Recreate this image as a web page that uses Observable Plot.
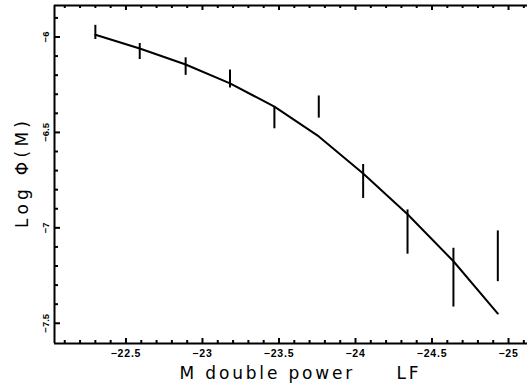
<!DOCTYPE html>
<html>
<head>
<meta charset="utf-8">
<script src="https://cdn.jsdelivr.net/npm/d3@7"></script>
<script src="https://cdn.jsdelivr.net/npm/@observablehq/plot@0.6"></script>
<style>
  html, body { margin: 0; padding: 0; background: #fff; }
  svg text { white-space: pre; }
</style>
</head>
<body>
<div id="chart"></div>
<script>
// Observed points (absolute magnitude, log phi, half error)
const mag    = [-22.30, -22.59, -22.89, -23.18, -23.47, -23.76, -24.05, -24.34, -24.64, -24.93];
const logPhi = [-5.976, -6.076, -6.155, -6.220, -6.423, -6.367, -6.757, -7.022, -7.261, -7.149];
const err    = [0.037, 0.042, 0.046, 0.047, 0.058, 0.058, 0.089, 0.116, 0.154, 0.133];
// Double power-law fit curve
const fitLogPhi = [-5.988, -6.060, -6.144, -6.243, -6.365, -6.521, -6.715, -6.929, -7.175, -7.449];
// Axis ticks
const xTicks = [-22.5, -23, -23.5, -24, -24.5, -25];
const yTicks = [-6, -6.5, -7, -7.5];
const xDomain = [-22.033, -25.124];
const yDomain = [-7.606, -5.835];
const xLabel = "M double power\u00a0\u00a0\u00a0\u00a0\u00a0LF";
const yLabel = "Log \u03A6(M)";

const points = mag.map((m, i) => ({m, v: logPhi[i], lo: logPhi[i] - err[i], hi: logPhi[i] + err[i]}));
const fit = mag.map((m, i) => ({m, v: fitLogPhi[i]}));
const xMinor = d3.range(-221, -252, -1).map(d => d / 10).filter(d => !xTicks.some(t => Math.abs(t - d) < 1e-9));
const yMinor = d3.range(-59, -76, -1).map(d => d / 10).filter(d => !yTicks.some(t => Math.abs(t - d) < 1e-9));
const fmt = d => String(d).replace("-", "\u2212");
const ink = "#000";
const labelFont = "'DejaVu Sans', Arial, sans-serif";

const chart = Plot.plot({
  width: 531,
  height: 387,
  marginLeft: 54,
  marginRight: 4,
  marginTop: 5,
  marginBottom: 44,
  style: {fontFamily: "'Liberation Sans', Arial, sans-serif", background: "#fff", color: ink},
  x: {domain: xDomain, axis: null},
  y: {domain: yDomain, axis: null},
  marks: [
    // frame (left, top, bottom)
    Plot.ruleX([xDomain[0]], {stroke: ink, strokeWidth: 2}),
    Plot.ruleY([yDomain[1]], {stroke: ink, strokeWidth: 2}),
    Plot.ruleY([yDomain[0]], {stroke: ink, strokeWidth: 2}),
    // inward ticks bottom
    Plot.ruleX(xTicks, {x: d => d, y1: yDomain[0], y2: yDomain[0], insetTop: -5, stroke: ink, strokeWidth: 2}),
    Plot.ruleX(xMinor, {x: d => d, y1: yDomain[0], y2: yDomain[0], insetTop: -3, stroke: ink, strokeWidth: 2}),
    // inward ticks top
    Plot.ruleX(xTicks, {x: d => d, y1: yDomain[1], y2: yDomain[1], insetBottom: -5, stroke: ink, strokeWidth: 2}),
    Plot.ruleX(xMinor, {x: d => d, y1: yDomain[1], y2: yDomain[1], insetBottom: -3, stroke: ink, strokeWidth: 2}),
    // inward ticks left
    Plot.ruleY(yTicks, {y: d => d, x1: xDomain[0], x2: xDomain[0], insetRight: -6, stroke: ink, strokeWidth: 2}),
    Plot.ruleY(yMinor, {y: d => d, x1: xDomain[0], x2: xDomain[0], insetRight: -4, stroke: ink, strokeWidth: 2}),
    // tick labels
    Plot.axisX(xTicks, {anchor: "bottom", tickSize: 0, tickPadding: 6, tickFormat: fmt, fontSize: 10.5, fontWeight: "bold", label: null}),
    Plot.axisY(yTicks, {anchor: "left", tickSize: 0, tickPadding: 6, tickRotate: -90, tickFormat: fmt, fontSize: 9.5, fontWeight: "bold", label: null}),
    // axis labels
    Plot.text([xLabel], {text: d => d, frameAnchor: "bottom", dx: 8, dy: 35, fontSize: 17, fontFamily: labelFont, lineAnchor: "bottom", textAnchor: "middle", fill: ink}),
    Plot.text([yLabel], {text: d => d, frameAnchor: "left", dx: -27, dy: 0, rotate: -90, fontSize: 17, fontFamily: labelFont, lineAnchor: "bottom", textAnchor: "middle", fill: ink}),
    // error bars
    Plot.ruleX(points, {x: "m", y1: "lo", y2: "hi", stroke: ink, strokeWidth: 2}),
    // fit curve
    Plot.line(fit, {x: "m", y: "v", stroke: ink, strokeWidth: 2})
  ]
});
document.getElementById("chart").appendChild(chart);
// stretch the axis titles to the widths they take in the reference
chart.querySelectorAll("text").forEach(t => {
  if (t.textContent === xLabel) { t.setAttribute("textLength", "239"); t.setAttribute("lengthAdjust", "spacing"); }
  else if (t.textContent === yLabel) { t.setAttribute("textLength", "107"); t.setAttribute("lengthAdjust", "spacing"); }
});
chart.querySelectorAll("[aria-label='x-axis tick label'] text").forEach(t => t.setAttribute("letter-spacing", "0.8"));
</script>
</body>
</html>
